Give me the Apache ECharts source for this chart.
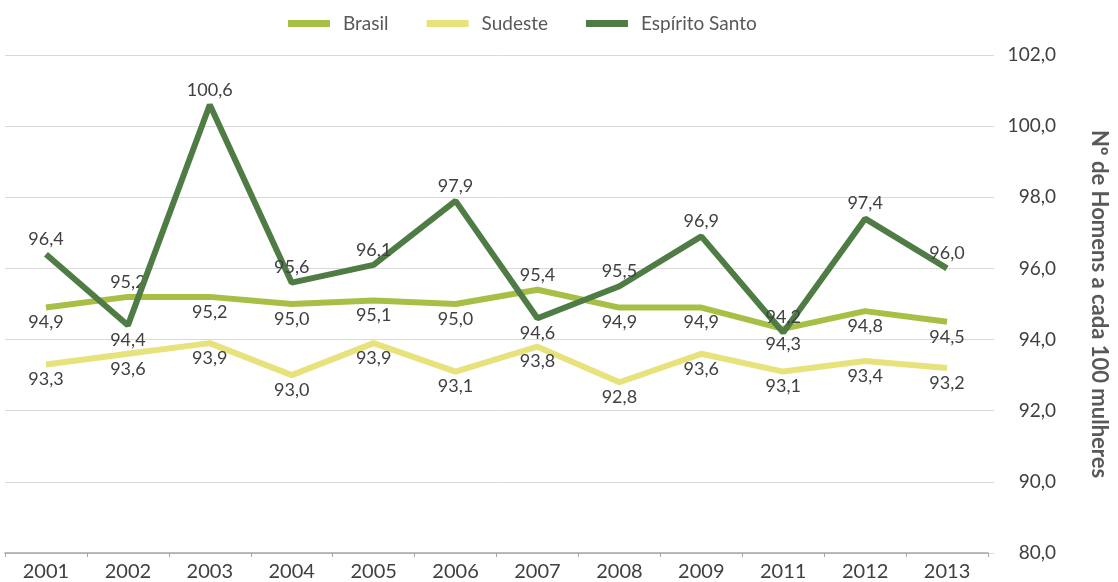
<!DOCTYPE html>
<html><head><meta charset="utf-8">
<script src="https://cdn.jsdelivr.net/npm/echarts@6/dist/echarts.min.js"></script>
<style>html,body{margin:0;padding:0;background:#fff}#c{width:1118px;height:582px}</style>
</head><body><div id="c"></div>
<script>
const years = ['2001','2002','2003','2004','2005','2006','2007','2008','2009','2011','2012','2013'];
const brasil = [94.9, 95.2, 95.2, 95.0, 95.1, 95.0, 95.4, 94.9, 94.9, 94.3, 94.8, 94.5];
const sudeste = [93.3, 93.6, 93.9, 93.0, 93.9, 93.1, 93.8, 92.8, 93.6, 93.1, 93.4, 93.2];
const espiritoSanto = [96.4, 94.4, 100.6, 95.6, 96.1, 97.9, 94.6, 95.5, 96.9, 94.2, 97.4, 96.0];
const yTicks = {88: '80,0'};

const brasilPos = ['bottom','top','bottom','bottom','bottom','bottom','top','bottom','bottom','bottom','bottom','bottom'];
const esPos = ['top','bottom','top','top','top','top','bottom','top','top','top','top','top'];

const colors = {brasil: '#a8bf45', sudeste: '#e8e27c', es: '#4f7c44'};
const fmt = v => v.toFixed(1).replace('.', ',');
const font = 'Lato, "Open Sans", sans-serif';
const mk = (vals, pos) => vals.map((v, i) => ({value: v, label: {position: pos ? pos[i] : 'bottom'}}));
const lbl = {show: true, fontSize: 18, color: '#404040', fontFamily: font, distance: 5,
  formatter: p => fmt(p.value)};
const hidden = {color: 'rgba(0,0,0,0)', borderWidth: 0};

const chart = echarts.init(document.getElementById('c'));
chart.setOption({
  animation: false,
  textStyle: {fontFamily: font},
  legend: {
    top: 9, left: 283, itemWidth: 42, itemHeight: 7, itemGap: 38,
    icon: 'rect',
    textStyle: {fontSize: 19, color: '#595959', fontFamily: font, padding: [0, 0, 0, 8]},
    data: [
      {name: 'Brasil', itemStyle: {color: colors.brasil}},
      {name: 'Sudeste', itemStyle: {color: colors.sudeste}},
      {name: 'Espírito Santo', itemStyle: {color: colors.es}}
    ]
  },
  grid: {left: 5, right: 112, top: 55, bottom: 29},
  xAxis: {
    type: 'category', data: years, boundaryGap: true,
    axisLine: {lineStyle: {color: '#a6a6a6', width: 1.5}},
    axisTick: {show: true, length: 4, lineStyle: {color: '#a6a6a6'}},
    axisLabel: {fontSize: 20, color: '#404040', margin: 9, fontFamily: font}
  },
  yAxis: {
    type: 'value', position: 'right', min: 88, max: 102, interval: 2,
    axisLine: {show: false},
    axisTick: {show: true, length: 6, lineStyle: {color: '#d9d9d9'}},
    splitLine: {lineStyle: {color: '#d9d9d9', width: 1}},
    axisLabel: {fontSize: 19, color: '#404040', align: 'right', margin: 68, fontFamily: font,
      formatter: v => yTicks[v] !== undefined ? yTicks[v] : fmt(v)},
    name: 'Nº de Homens a cada 100 mulheres', nameLocation: 'middle', nameRotate: -90, nameGap: 100,
    nameTextStyle: {fontSize: 22, fontWeight: 'bold', color: '#595959', fontFamily: font}
  },
  series: [
    {name: 'Brasil', type: 'line', data: mk(brasil, brasilPos), symbol: 'circle', symbolSize: 2, showSymbol: true, z: 3,
      lineStyle: {color: colors.brasil, width: 6}, itemStyle: hidden, label: lbl},
    {name: 'Sudeste', type: 'line', data: mk(sudeste), symbol: 'circle', symbolSize: 2, showSymbol: true, z: 2,
      lineStyle: {color: colors.sudeste, width: 6}, itemStyle: hidden, label: lbl},
    {name: 'Espírito Santo', type: 'line', data: mk(espiritoSanto, esPos), symbol: 'circle', symbolSize: 2, showSymbol: true, z: 4,
      lineStyle: {color: colors.es, width: 6}, itemStyle: hidden, label: lbl}
  ]
});
</script></body></html>
